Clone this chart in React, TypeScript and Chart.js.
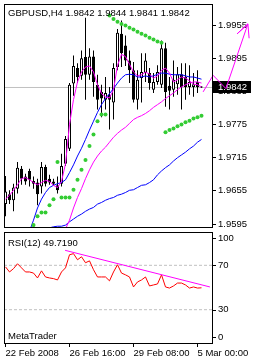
import React, { useEffect, useRef } from 'react';
import { Chart, registerables } from 'chart.js';

Chart.register(...registerables);

// ---------- texts ----------
const SYMBOL_TITLE = 'GBPUSD,H4 1.9842 1.9844 1.9841 1.9842';
const RSI_TITLE = 'RSI(12) 49.7190';
const WATERMARK = 'MetaTrader';

// ---------- H4 candles (bar index 0 = 22 Feb 2008 00:00) ----------
const openValues = [1.9631, 1.9649, 1.9638, 1.9659, 1.9695, 1.9681, 1.9691, 1.9673, 1.9670, 1.9663, 1.9698, 1.9677, 1.9672, 1.9665, 1.9668, 1.9704, 1.9731, 1.9849, 1.9877, 1.9863, 1.9897, 1.9865, 1.9898, 1.9847, 1.9834, 1.9820, 1.9829, 1.9815, 1.9879, 1.9939, 1.9918, 1.9891, 1.9873, 1.9820, 1.9859, 1.9868, 1.9868, 1.9838, 1.9852, 1.9847, 1.9913, 1.9845, 1.9838, 1.9848, 1.9866, 1.9861, 1.9843, 1.9843, 1.9852, 1.9842];
const highValues = [1.9682, 1.9656, 1.9668, 1.9707, 1.9700, 1.9686, 1.9695, 1.9681, 1.9677, 1.9707, 1.9702, 1.9684, 1.9677, 1.9681, 1.9722, 1.9754, 1.9850, 1.9900, 1.9886, 1.9909, 1.9968, 1.9913, 1.9909, 1.9865, 1.9847, 1.9861, 1.9843, 1.9886, 1.9948, 1.9963, 1.9936, 1.9909, 1.9888, 1.9873, 1.9904, 1.9904, 1.9877, 1.9868, 1.9882, 1.9927, 1.9923, 1.9861, 1.9891, 1.9879, 1.9886, 1.9886, 1.9882, 1.9868, 1.9873, 1.9844];
const lowValues = [1.9609, 1.9631, 1.9618, 1.9650, 1.9666, 1.9666, 1.9663, 1.9659, 1.9629, 1.9650, 1.9663, 1.9666, 1.9665, 1.9650, 1.9663, 1.9700, 1.9727, 1.9827, 1.9850, 1.9856, 1.9820, 1.9856, 1.9825, 1.9802, 1.9788, 1.9802, 1.9766, 1.9784, 1.9873, 1.9879, 1.9881, 1.9850, 1.9815, 1.9802, 1.9815, 1.9852, 1.9838, 1.9832, 1.9847, 1.9841, 1.9807, 1.9802, 1.9825, 1.9829, 1.9802, 1.9820, 1.9829, 1.9825, 1.9832, 1.9841];
const closeValues = [1.9654, 1.9638, 1.9661, 1.9697, 1.9677, 1.9672, 1.9675, 1.9668, 1.9649, 1.9698, 1.9668, 1.9670, 1.9668, 1.9656, 1.9700, 1.9749, 1.9847, 1.9881, 1.9861, 1.9895, 1.9865, 1.9898, 1.9852, 1.9820, 1.9822, 1.9832, 1.9820, 1.9877, 1.9941, 1.9904, 1.9891, 1.9873, 1.9820, 1.9856, 1.9870, 1.9891, 1.9850, 1.9852, 1.9870, 1.9913, 1.9834, 1.9836, 1.9856, 1.9866, 1.9843, 1.9843, 1.9852, 1.9848, 1.9843, 1.9842];

// ---------- indicators ----------
const maFastMagenta = [1.9640, 1.9647, 1.9656, 1.9666, 1.9677, 1.9679, 1.9675, 1.9670, 1.9666, 1.9670, 1.9674, 1.9672, 1.9665, 1.9661, 1.9672, 1.9704, 1.9775, 1.9820, 1.9852, 1.9870, 1.9879, 1.9881, 1.9870, 1.9847, 1.9831, 1.9825, 1.9823, 1.9838, 1.9882, 1.9902, 1.9898, 1.9884, 1.9870, 1.9863, 1.9865, 1.9870, 1.9866, 1.9859, 1.9863, 1.9873, 1.9877, 1.9868, 1.9852, 1.9856, 1.9861, 1.9859, 1.9854, 1.9848, 1.9847, 1.9843];
const maMidBlue = [null, null, null, null, null, null, 1.9582, 1.9602, 1.9624, 1.9640, 1.9652, 1.9661, 1.9665, 1.9668, 1.9670, 1.9675, 1.9688, 1.9702, 1.9718, 1.9732, 1.9748, 1.9765, 1.9781, 1.9797, 1.9811, 1.9822, 1.9831, 1.9840, 1.9850, 1.9859, 1.9865, 1.9866, 1.9865, 1.9861, 1.9861, 1.9863, 1.9861, 1.9863, 1.9866, 1.9868, 1.9868, 1.9866, 1.9865, 1.9865, 1.9865, 1.9863, 1.9861, 1.9861, 1.9859, 1.9857];
const maSlowMagenta = [null, null, null, null, null, null, null, null, null, null, null, null, null, null, null, 1.9586, 1.9602, 1.9624, 1.9643, 1.9659, 1.9677, 1.9693, 1.9707, 1.9718, 1.9727, 1.9734, 1.9743, 1.9752, 1.9759, 1.9765, 1.9770, 1.9777, 1.9784, 1.9788, 1.9791, 1.9795, 1.9800, 1.9806, 1.9811, 1.9816, 1.9822, 1.9827, 1.9832, 1.9838, 1.9843, 1.9847, 1.9850, 1.9852, 1.9852, 1.9850];
const maSlowBlue = [null, null, null, null, null, null, null, null, null, null, null, 1.9588, 1.9590, 1.9591, 1.9591, 1.9593, 1.9599, 1.9604, 1.9609, 1.9613, 1.9618, 1.9622, 1.9625, 1.9631, 1.9634, 1.9638, 1.9641, 1.9643, 1.9647, 1.9649, 1.9652, 1.9656, 1.9657, 1.9661, 1.9665, 1.9666, 1.9670, 1.9675, 1.9684, 1.9691, 1.9697, 1.9702, 1.9709, 1.9715, 1.9720, 1.9725, 1.9731, 1.9736, 1.9743, 1.9748];
const sarValues = [null, null, null, null, null, null, null, 1.9593, 1.9609, 1.9616, 1.9616, 1.9629, 1.9640, 1.9707, 1.9643, 1.9643, 1.9643, 1.9657, 1.9675, 1.9693, 1.9711, 1.9736, 1.9757, 1.9781, 1.9793, 1.9793, 1.9972, 1.9966, 1.9961, 1.9957, 1.9954, 1.9950, 1.9947, 1.9943, 1.9939, 1.9936, 1.9932, 1.9929, 1.9925, 1.9923, 1.9761, 1.9765, 1.9768, 1.9772, 1.9775, 1.9779, 1.9782, 1.9786, 1.9788, 1.9791];

// zigzag arrow drawn past the last bar (bar index, price)
const arrowBars = [49.4, 51.9, 55.1, 60.6, 57.9, 60.6, 60.9];
const arrowPrices = [1.9834, 1.9864, 1.9840, 1.9957, 1.9939, 1.9957, 1.9931];

// ---------- RSI ----------
const rsiValues = [68.6, 64, 67, 71.4, 67.7, 64, 64, 63, 58.6, 65, 59.5, 58.6, 58, 56.8, 64, 67.7, 79.5, 80.5, 75, 77.7, 72.3, 74, 66, 59.5, 59.5, 59.5, 56, 64, 70.5, 63, 61.4, 59.5, 50.5, 55, 56.8, 59.5, 51.4, 52.3, 53.2, 61.4, 50.5, 49.5, 51.4, 54, 54, 52.3, 49.5, 50.5, 49.5, 49.72];
const rsiTrendBars = [14.9, 51.1];
const rsiTrendValues = [83.5, 50.5];
const rsiLevels = [70, 30];
const rsiAxisLabels = [100, 70, 30, 0];

// ---------- axes ----------
const priceTicks = [1.9955, 1.9895, 1.9835, 1.9775, 1.9715, 1.9655, 1.9595];
const xTickBars = [0, 16, 32, 48];
const xTickLabels = ['22 Feb 2008', '26 Feb 16:00', '29 Feb 08:00', '5 Mar 00:00'];

const X_MIN = -0.375;
const X_MAX = 51.625;
const PRICE_MIN = 1.95896;
const PRICE_MAX = 1.9993;

const FAMILY = '"Liberation Sans", Arial, sans-serif';
const FONT_SIZE = 9.5;
const CSS_FONT = `${FONT_SIZE}px ${FAMILY}`;

const lastClose = closeValues[closeValues.length - 1];
const idx = closeValues.map((_, i) => i);
const series = (arr: (number | null)[]) =>
  arr.map((v, i) => ({ x: i, y: v })).filter((p) => p.y !== null);

function drawFrame(chart: any) {
  const { ctx, chartArea: a } = chart;
  ctx.save();
  ctx.strokeStyle = '#000';
  ctx.lineWidth = 1;
  ctx.strokeRect(a.left + 0.5, a.top + 0.5, a.right - a.left, a.bottom - a.top);
  ctx.restore();
}

const mainPlugin = {
  id: 'mtMain',
  beforeDatasetsDraw(chart: any) {
    const { ctx, chartArea: a } = chart;
    const y = chart.scales.y.getPixelForValue(lastClose);
    ctx.save();
    ctx.fillStyle = '#000';
    ctx.fillRect(a.right + 1, Math.round(y) - 6, 38, 12);
    ctx.fillStyle = '#fff';
    ctx.font = CSS_FONT;
    ctx.textBaseline = 'middle';
    ctx.textAlign = 'left';
    ctx.fillText(lastClose.toFixed(4), a.right + 6, y);
    ctx.restore();
  },
  afterDraw(chart: any) {
    drawFrame(chart);
    const { ctx } = chart;
    ctx.save();
    ctx.fillStyle = '#000';
    ctx.font = CSS_FONT;
    ctx.textBaseline = 'alphabetic';
    ctx.fillText(SYMBOL_TITLE, 8, 16);
    ctx.restore();
  },
};

const rsiPlugin = {
  id: 'mtRsi',
  afterDraw(chart: any) {
    drawFrame(chart);
    const { ctx, chartArea: a } = chart;
    const ys = chart.scales.y;
    ctx.save();
    ctx.fillStyle = '#000';
    ctx.strokeStyle = '#000';
    ctx.lineWidth = 1;
    ctx.font = CSS_FONT;
    ctx.textAlign = 'left';
    ctx.textBaseline = 'middle';
    rsiAxisLabels.forEach((v) => {
      const py = ys.getPixelForValue(v);
      const ly = Math.min(Math.max(py, a.top + 6), a.bottom - 6);
      const ry = Math.round(ly) + 0.5;
      ctx.beginPath();
      ctx.moveTo(a.right, ry);
      ctx.lineTo(a.right + 4, ry);
      ctx.stroke();
      ctx.fillText(String(v), a.right + 6, ly);
    });
    ctx.textBaseline = 'alphabetic';
    ctx.fillText(RSI_TITLE, 8, a.top + 14);
    ctx.fillText(WATERMARK, 8, a.bottom - 4);
    ctx.restore();
  },
};

const lineDs = (data: any[], color: string, order: number, extra: any = {}) => ({
  type: 'line',
  data,
  borderColor: color,
  borderWidth: 1,
  pointRadius: 0,
  tension: 0,
  fill: false,
  order,
  ...extra,
});

function mainConfig(): any {
  return {
    type: 'bar',
    data: {
      datasets: [
        lineDs(
          [
            { x: X_MIN, y: lastClose },
            { x: X_MAX, y: lastClose },
          ],
          '#c0c0c0',
          12
        ),
        {
          type: 'bar',
          data: idx.map((i) => ({ x: i, y: [lowValues[i], highValues[i]] })),
          backgroundColor: '#000',
          borderWidth: 0,
          barThickness: 1,
          grouped: false,
          inflateAmount: 0,
          order: 11,
        },
        {
          type: 'bar',
          data: idx.map((i) => ({ x: i, y: [openValues[i], closeValues[i]] })),
          backgroundColor: idx.map((i) => (closeValues[i] >= openValues[i] ? '#ffffff' : '#000000')),
          borderColor: '#000',
          borderWidth: 1,
          borderSkipped: false,
          barThickness: 3,
          minBarLength: 1,
          grouped: false,
          inflateAmount: 0,
          order: 10,
        },
        lineDs(series(maSlowBlue), '#0000ff', 7),
        lineDs(series(maSlowMagenta), '#ff00ff', 6),
        lineDs(series(maMidBlue), '#0000ff', 5),
        lineDs(series(maFastMagenta), '#ff00ff', 4),
        {
          type: 'line',
          data: series(sarValues),
          showLine: false,
          pointRadius: 2,
          pointBorderWidth: 0,
          pointBackgroundColor: '#33cc33',
          pointBorderColor: '#33cc33',
          order: 3,
        },
        lineDs(
          arrowBars.map((b, i) => ({ x: b, y: arrowPrices[i] })),
          '#ff00ff',
          1,
          { clip: false }
        ),
      ],
    },
    options: {
      responsive: false,
      animation: false,
      devicePixelRatio: 1,
      events: [],
      layout: { padding: { left: 4, right: 0, top: 3, bottom: 2 } },
      plugins: { legend: { display: false }, tooltip: { enabled: false } },
      scales: {
        x: { type: 'linear', min: X_MIN, max: X_MAX, display: false, offset: false, grid: { offset: false } },
        y: {
          type: 'linear',
          position: 'right',
          min: PRICE_MIN,
          max: PRICE_MAX,
          beginAtZero: false,
          afterBuildTicks: (s: any) => {
            s.ticks = priceTicks.map((v) => ({ value: v }));
          },
          afterFit: (s: any) => {
            s.width = 42;
            s.paddingTop = 0;
            s.paddingBottom = 0;
          },
          border: { display: false },
          grid: { drawOnChartArea: false, drawTicks: true, tickLength: 4, tickColor: '#000', color: '#000' },
          ticks: {
            padding: 2,
            color: '#000',
            font: { family: FAMILY, size: FONT_SIZE },
            autoSkip: false,
            callback: (v: any) => Number(v).toFixed(4),
          },
        },
      },
    },
    plugins: [mainPlugin],
  };
}

function rsiConfig(): any {
  return {
    type: 'line',
    data: {
      datasets: [
        ...rsiLevels.map((lvl) =>
          lineDs(
            [
              { x: X_MIN, y: lvl },
              { x: X_MAX, y: lvl },
            ],
            '#c0c0c0',
            10,
            { borderDash: [3, 2] }
          )
        ),
        lineDs(series(rsiValues), '#ff0000', 5),
        lineDs(
          rsiTrendBars.map((b, i) => ({ x: b, y: rsiTrendValues[i] })),
          '#ff00ff',
          4
        ),
      ],
    },
    options: {
      responsive: false,
      animation: false,
      devicePixelRatio: 1,
      events: [],
      layout: { padding: { left: 4, right: 0, top: 1, bottom: 0 } },
      plugins: { legend: { display: false }, tooltip: { enabled: false } },
      scales: {
        x: {
          type: 'linear',
          position: 'bottom',
          min: X_MIN,
          max: X_MAX,
          offset: false,
          afterBuildTicks: (s: any) => {
            s.ticks = xTickBars.map((v) => ({ value: v }));
          },
          afterFit: (s: any) => {
            s.height = 19;
            s.paddingLeft = 0;
            s.paddingRight = 0;
          },
          border: { display: false },
          grid: { drawOnChartArea: false, drawTicks: true, tickLength: 4, tickColor: '#000', color: '#000', offset: false },
          ticks: {
            align: 'start',
            autoSkip: false,
            maxRotation: 0,
            minRotation: 0,
            padding: 1,
            color: '#000',
            font: { family: FAMILY, size: FONT_SIZE },
            callback: (v: any) => {
              const k = xTickBars.indexOf(Number(v));
              return k >= 0 ? xTickLabels[k] : '';
            },
          },
        },
        y: {
          type: 'linear',
          position: 'right',
          min: 0,
          max: 100,
          afterFit: (s: any) => {
            s.width = 42;
            s.paddingTop = 0;
            s.paddingBottom = 0;
          },
          border: { display: false },
          grid: { display: false },
          ticks: { display: false },
        },
      },
    },
    plugins: [rsiPlugin],
  };
}

export default function App() {
  const mainRef = useRef<HTMLCanvasElement>(null);
  const rsiRef = useRef<HTMLCanvasElement>(null);

  useEffect(() => {
    const main = new Chart(mainRef.current as HTMLCanvasElement, mainConfig());
    const rsi = new Chart(rsiRef.current as HTMLCanvasElement, rsiConfig());
    return () => {
      main.destroy();
      rsi.destroy();
    };
  }, []);

  return (
    <div style={{ position: 'fixed', left: 0, top: 0, width: 254, height: 362, background: '#fff' }}>
      <canvas ref={mainRef} width={254} height={231} style={{ position: 'absolute', left: 0, top: 0 }} />
      <canvas ref={rsiRef} width={254} height={131} style={{ position: 'absolute', left: 0, top: 231 }} />
    </div>
  );
}
